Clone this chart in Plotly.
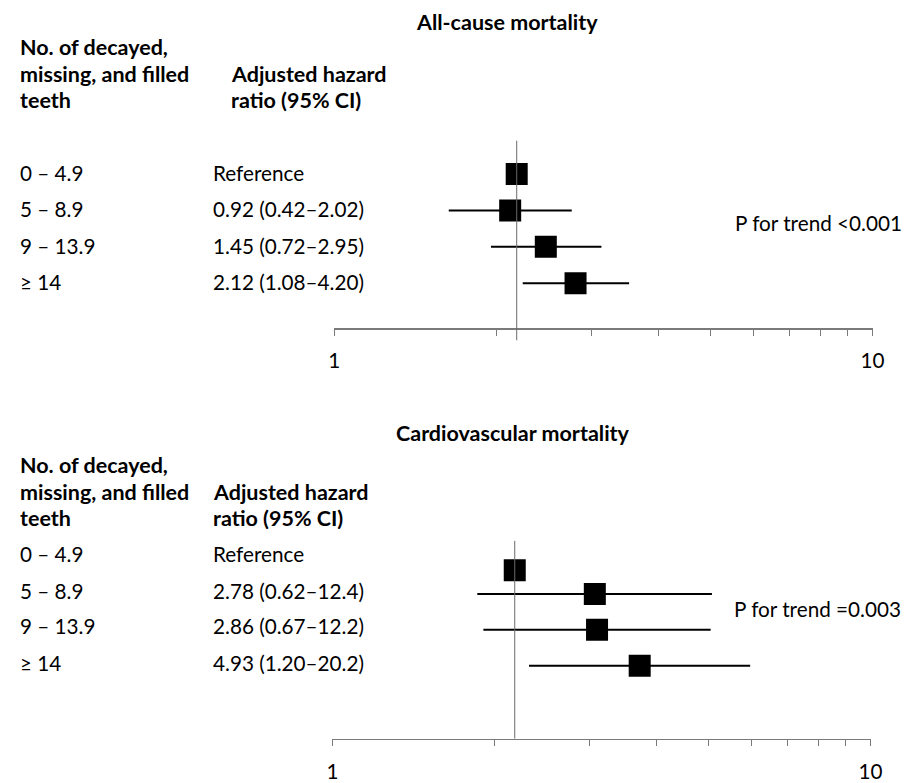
import plotly.graph_objects as go

W, H = 910, 783

# ---------------- data ----------------
groups = ["0 – 4.9", "5 – 8.9", "9 – 13.9", "≥ 14"]

allcause_hr = [1.0, 0.92, 1.45, 2.12]
allcause_lo = [1.0, 0.42, 0.72, 1.08]
allcause_hi = [1.0, 2.02, 2.95, 4.20]
allcause_text = ["Reference", "0.92 (0.42–2.02)", "1.45 (0.72–2.95)", "2.12 (1.08–4.20)"]

cv_hr = [1.0, 2.78, 2.86, 4.93]
cv_lo = [1.0, 0.62, 0.67, 1.20]
cv_hi = [1.0, 12.4, 12.2, 20.2]
cv_text = ["Reference", "2.78 (0.62–12.4)", "2.86 (0.67–12.2)", "4.93 (1.20–20.2)"]

titles = ["All-cause mortality", "Cardiovascular mortality"]
p_trend = ["P for trend <0.001", "P for trend =0.003"]
col_head_1 = ["No. of decayed,", "missing, and filled", "teeth"]
col_head_2 = ["Adjusted hazard", "ratio (95% CI)"]

axis_tickvals = [1, 2, 3, 4, 5, 6, 7, 8, 9, 10]
axis_ticktext = ["1", "", "", "", "", "", "", "", "", "10"]

# ---------------- layout constants ----------------
FONT = "Lato, Carlito, Calibri, sans-serif"
FS = 20.7
FSB = 21.5
AXC = "#7a7a7a"
top_rows = [0, 1, 2, 3]
bot_rows = [0.34, 1, 2, 3]


def px(x):
    return x / W


def py(y):
    return 1 - y / H


fig = go.Figure()

# invisible traces so the visible (1–10) axes get their subplots
for xa, ya in (("x", "y"), ("x3", "y2")):
    fig.add_trace(go.Scatter(x=[1, 10], y=[None, None], mode="lines", xaxis=xa, yaxis=ya,
                             showlegend=False, hoverinfo="skip"))


def add_points(hr, lo, hi, rows, xa, ya):
    fig.add_trace(go.Scatter(
        x=hr, y=rows, mode="markers",
        xaxis=xa, yaxis=ya,
        marker=dict(symbol="square", size=22, color="black", line=dict(width=0)),
        error_x=dict(type="data", symmetric=False,
                     array=[h - v for h, v in zip(hi, hr)],
                     arrayminus=[v - l for v, l in zip(hr, lo)],
                     width=0, thickness=2, color="black"),
        showlegend=False, hoverinfo="skip",
    ))


add_points(allcause_hr, allcause_lo, allcause_hi, top_rows, "x2", "y")
add_points(cv_hr, cv_lo, cv_hi, bot_rows, "x4", "y2")

vis_axis = dict(type="log", range=[0, 1], tickvals=axis_tickvals, ticktext=axis_ticktext,
                ticks="outside", ticklen=6, tickwidth=1, tickcolor=AXC,
                showline=True, linecolor=AXC, linewidth=1.2, showgrid=False, zeroline=False,
                tickfont=dict(family=FONT, size=FS, color="black"), ticklabelstandoff=8,
                fixedrange=True)
data_axis = dict(type="log", range=[-1.011, 1.973], visible=False, showgrid=False,
                 zeroline=False, fixedrange=True)

fig.update_layout(
    width=W, height=H,
    margin=dict(l=0, r=0, t=0, b=0),
    paper_bgcolor="white", plot_bgcolor="rgba(0,0,0,0)",
    font=dict(family=FONT, size=FS, color="black"),
    hovermode=False,
    xaxis=dict(domain=[px(335), px(884)], anchor="y", **vis_axis),
    xaxis2=dict(domain=[px(335), px(884)], anchor="y", overlaying="x", **data_axis),
    yaxis=dict(domain=[py(334), py(143)], range=[4.243, -0.919], visible=False, fixedrange=True),
    xaxis3=dict(domain=[px(333), px(882)], anchor="y2", **vis_axis),
    xaxis4=dict(domain=[px(333), px(882)], anchor="y2", overlaying="x3", **data_axis),
    yaxis2=dict(domain=[py(751), py(550)], range=[5.03, -0.479], visible=False, fixedrange=True),
)

# reference lines at HR = 1
fig.add_shape(type="line", xref="x2", yref="paper", x0=1, x1=1, y0=py(346), y1=py(143),
              line=dict(color="#6a6a6a", width=1))
fig.add_shape(type="line", xref="x4", yref="paper", x0=1, x1=1, y0=py(751), y1=py(550),
              line=dict(color="#6a6a6a", width=1))


def ann(text, x, y, bold=False, xanchor="left"):
    fig.add_annotation(text=f"<b>{text}</b>" if bold else text,
                       x=px(x), y=py(y), xref="paper", yref="paper",
                       xanchor=xanchor, yanchor="middle", showarrow=False,
                       font=dict(family=FONT, size=FSB if bold else FS, color="black"))


# ---- top panel text ----
ann(titles[0], 511, 22, bold=True, xanchor="center")
for t, y in zip(col_head_1, [48, 75, 102]):
    ann(t, 12, y, bold=True)
for t, y in zip(col_head_2, [75, 102]):
    ann(t, 227, y, bold=True)
for g, t, y in zip(groups, allcause_text, [176, 213, 250, 287]):
    ann(g, 12, y)
    ann(t, 209, y)
ann(p_trend[0], 742, 227)

# ---- bottom panel text ----
ann(titles[1], 517, 440, bold=True, xanchor="center")
for t, y in zip(col_head_1, [473, 500, 527]):
    ann(t, 12, y, bold=True)
for t, y in zip(col_head_2, [500, 527]):
    ann(t, 209, y, bold=True)
for g, t, y in zip(groups, cv_text, [563, 601, 637, 674]):
    ann(g, 12, y)
    ann(t, 209, y)
ann(p_trend[1], 741, 619)

fig.write_html(
    "out.html",
    config={"displayModeBar": False, "staticPlot": True},
    post_script="document.documentElement.style.margin='0px';"
                "document.body.style.margin='0px';document.body.style.padding='0px';"
                "document.body.style.overflow='hidden';",
)
